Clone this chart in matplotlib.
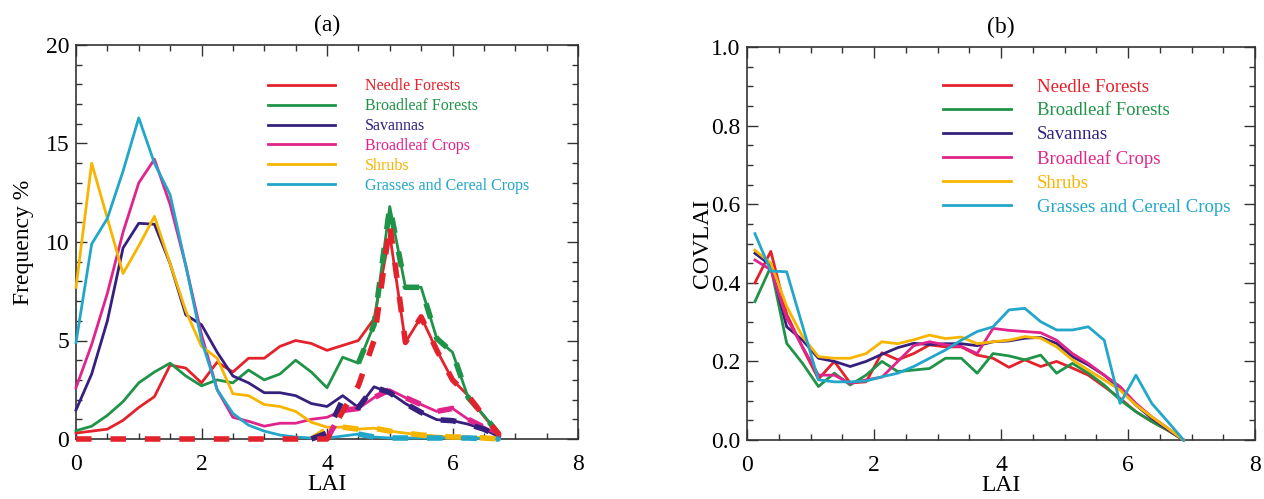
import numpy as np
import matplotlib
matplotlib.use("Agg")
import matplotlib.pyplot as plt
from matplotlib.ticker import MultipleLocator

NaN = np.nan

classes = ["Needle Forests", "Broadleaf Forests", "Savannas",
           "Broadleaf Crops", "Shrubs", "Grasses and Cereal Crops"]
colors = ["#e3222b", "#1f9448", "#35207e", "#e0248c", "#f7b500", "#22a6c9"]

# ---------------- panel (a): LAI histogram ----------------
lai_a = [0.0, 0.25, 0.5, 0.75, 1.0, 1.25, 1.5, 1.75, 2.0, 2.25, 2.5, 2.75, 3.0, 3.25,
         3.5, 3.75, 4.0, 4.25, 4.5, 4.75, 5.0, 5.25, 5.5, 5.75, 6.0, 6.25, 6.5, 6.75]

needle_a = [0.3, 0.4, 0.5, 0.95, 1.6, 2.15, 3.75, 3.6, 2.85, 3.9, 3.4, 4.1, 4.1, 4.7,
            5.0, 4.85, 4.5, 4.75, 5.0, 6.1, 10.4, 4.9, 6.2, 4.5, 3.0, 2.2, 1.15, 0.2]
broadf_a = [0.42, 0.65, 1.2, 1.9, 2.85, 3.4, 3.85, 3.2, 2.7, 3.0, 2.85, 3.5, 3.0, 3.3,
            4.0, 3.4, 2.6, 4.15, 3.85, 5.8, 11.8, 7.7, 7.7, 5.1, 4.4, 2.1, 1.2, 0.2]
savann_a = [1.47, 3.3, 6.0, 9.7, 10.95, 10.9, 8.9, 6.3, 5.8, 4.4, 3.2, 2.85, 2.35, 2.35,
            2.2, 1.8, 1.65, 2.2, 1.6, 2.65, 2.35, 1.8, 1.35, 0.98, 0.93, 0.75, 0.5, 0.1]
bcrops_a = [2.6, 4.8, 7.4, 10.5, 13.0, 14.2, 11.9, 8.8, 5.3, 2.5, 1.1, 0.9, 0.65, 0.8,
            0.8, 1.0, 1.1, 1.45, 1.55, 2.1, 2.5, 2.1, 1.75, 1.4, 1.55, 1.0, 0.6, 0.2]
shrubs_a = [7.7, 14.0, 11.2, 8.4, 9.8, 11.3, 8.9, 6.5, 4.7, 4.1, 2.3, 2.2, 1.75, 1.65,
            1.4, 0.85, 0.6, 0.6, 0.5, 0.55, 0.4, 0.3, 0.2, 0.15, 0.1, 0.1, 0.05, 0.0]
grass_a = [4.9, 9.9, 11.2, 13.6, 16.3, 14.0, 12.4, 8.8, 5.0, 2.5, 1.3, 0.7, 0.4, 0.2,
           0.1, 0.05, 0.05, 0.15, 0.25, 0.1, 0.05, 0.05, 0.05, 0.05, 0.05, 0.05, 0.02, 0.0]

# thick dashed companion curves (panel a)
needle_ad = [0.0, 0.0, 0.0, 0.0, 0.0, 0.0, 0.0, 0.0, 0.0, 0.0, 0.0, 0.0, 0.0, 0.0,
             0.0, 0.0, 0.0, 1.4, 2.7, 5.0, 10.9, 4.9, 6.2, 4.5, 3.0, 2.2, 1.15, 0.2]
broadf_ad = [NaN, NaN, NaN, NaN, NaN, NaN, NaN, NaN, NaN, NaN, NaN, NaN, NaN, NaN,
             NaN, NaN, NaN, NaN, 3.85, 5.8, 11.8, 7.7, 7.7, 5.1, 4.4, 2.1, 1.2, 0.2]
savann_ad = [NaN, NaN, NaN, NaN, NaN, NaN, NaN, NaN, NaN, NaN, NaN, NaN, NaN, NaN,
             NaN, 0.0, 0.3, 2.0, 1.6, 2.65, 2.35, 1.8, 1.35, 0.98, 0.93, 0.75, 0.5, 0.1]
bcrops_ad = [NaN, NaN, NaN, NaN, NaN, NaN, NaN, NaN, NaN, NaN, NaN, NaN, NaN, NaN,
             NaN, NaN, 0.0, 1.45, 1.55, 2.1, 2.5, 2.1, 1.75, 1.4, 1.55, 1.0, 0.6, 0.2]
shrubs_ad = [NaN, NaN, NaN, NaN, NaN, NaN, NaN, NaN, NaN, NaN, NaN, NaN, NaN, NaN,
             NaN, 0.0, 0.5, 0.6, 0.5, 0.55, 0.4, 0.3, 0.2, 0.15, 0.1, 0.1, 0.05, 0.0]
grass_ad = [NaN, NaN, NaN, NaN, NaN, NaN, NaN, NaN, NaN, NaN, NaN, NaN, NaN, NaN,
            NaN, NaN, NaN, NaN, 0.25, 0.1, 0.05, 0.05, 0.05, 0.05, 0.05, 0.05, 0.02, 0.0]

# ---------------- panel (b): COVLAI ----------------
lai_b = [0.125, 0.375, 0.625, 0.875, 1.125, 1.375, 1.625, 1.875, 2.125, 2.375, 2.625,
         2.875, 3.125, 3.375, 3.625, 3.875, 4.125, 4.375, 4.625, 4.875, 5.125, 5.375,
         5.625, 5.875, 6.125, 6.375, 6.625, 6.875]

needle_b = [0.40, 0.48, 0.32, 0.235, 0.155, 0.20, 0.145, 0.148, 0.222, 0.204, 0.22, 0.242,
            0.237, 0.237, 0.216, 0.208, 0.185, 0.204, 0.187, 0.20, 0.183, 0.165, 0.136,
            0.106, 0.072, 0.047, 0.025, 0.0]
broadf_b = [0.352, 0.441, 0.246, 0.195, 0.136, 0.17, 0.14, 0.165, 0.2, 0.174, 0.178, 0.182,
            0.208, 0.208, 0.17, 0.22, 0.214, 0.204, 0.216, 0.17, 0.195, 0.17, 0.14, 0.102,
            0.072, 0.047, 0.025, 0.0]
savann_b = [0.475, 0.445, 0.288, 0.254, 0.208, 0.2, 0.187, 0.2, 0.218, 0.235, 0.246, 0.243,
            0.245, 0.245, 0.24, 0.25, 0.252, 0.259, 0.261, 0.246, 0.212, 0.191, 0.165, 0.131,
            0.089, 0.055, 0.027, 0.0]
bcrops_b = [0.458, 0.433, 0.31, 0.237, 0.165, 0.165, 0.144, 0.153, 0.16, 0.2, 0.24, 0.25,
            0.242, 0.238, 0.22, 0.284, 0.279, 0.276, 0.273, 0.254, 0.22, 0.195, 0.165, 0.136,
            0.093, 0.059, 0.03, 0.0]
shrubs_b = [0.483, 0.45, 0.34, 0.263, 0.212, 0.208, 0.208, 0.22, 0.25, 0.245, 0.255, 0.267,
            0.258, 0.262, 0.245, 0.25, 0.254, 0.263, 0.259, 0.237, 0.204, 0.178, 0.153, 0.127,
            0.089, 0.059, 0.03, 0.0]
grass_b = [0.525, 0.43, 0.428, 0.29, 0.153, 0.148, 0.148, 0.15, 0.161, 0.17, 0.187, 0.208,
           0.229, 0.254, 0.276, 0.288, 0.331, 0.335, 0.301, 0.28, 0.28, 0.288, 0.254, 0.093,
           0.165, 0.093, 0.047, 0.0]

series_a = [needle_a, broadf_a, savann_a, bcrops_a, shrubs_a, grass_a]
dashed_a = [needle_ad, broadf_ad, savann_ad, bcrops_ad, shrubs_ad, grass_ad]
series_b = [needle_b, broadf_b, savann_b, bcrops_b, shrubs_b, grass_b]

plt.rcParams['font.family'] = ['Liberation Serif', 'DejaVu Serif']

fig = plt.figure(figsize=(12.64, 4.99), dpi=100)
axa = fig.add_axes([76/1264, 60/499, 502/1264, 394/499])
axb = fig.add_axes([747/1264, 59/499, 508/1264, 393/499])

lw = 2.0
handles = []
for vals, c, name in zip(series_a, colors, classes):
    h, = axa.plot(lai_a, vals, color=c, lw=lw, label=name, zorder=3, clip_on=False)
    handles.append(h)
# dashed thick companions, red last on top
order = [5, 4, 3, 2, 1, 0]
for i in order:
    axa.plot(lai_a, dashed_a[i], color=colors[i], lw=4.0, ls=(0, (2.8, 3.4)),
             zorder=4, clip_on=False, solid_capstyle='butt', dash_capstyle='butt')

for vals, c, name in zip(series_b, colors, classes):
    axb.plot(lai_b, vals, color=c, lw=lw, label=name, zorder=3, clip_on=False)

axa.set_xlim(0, 8)
axa.set_ylim(0, 20)
axb.set_xlim(0, 8)
axb.set_ylim(0, 1.0)

for ax in (axa, axb):
    ax.xaxis.set_major_locator(MultipleLocator(2))
    ax.xaxis.set_minor_locator(MultipleLocator(0.5))
    ax.tick_params(which='both', direction='in', top=True, right=True,
                   labelsize=17, width=1.0, color='#333333')
    ax.tick_params(which='major', length=8)
    ax.tick_params(which='minor', length=4)
    ax.tick_params(axis='x', which='major', pad=11)
    ax.tick_params(axis='y', which='major', pad=5)
    for s in ax.spines.values():
        s.set_linewidth(1.2)
        s.set_color('#333333')
    ax.set_xlabel("LAI", fontsize=17, labelpad=-1)

axa.yaxis.set_major_locator(MultipleLocator(5))
axa.yaxis.set_minor_locator(MultipleLocator(1))
axb.yaxis.set_major_locator(MultipleLocator(0.2))
axb.yaxis.set_minor_locator(MultipleLocator(0.05))
axb.yaxis.set_major_formatter(matplotlib.ticker.FormatStrFormatter('%.1f'))

axa.set_ylabel("Frequency %", fontsize=17, labelpad=8)
axb.set_ylabel("COVLAI", fontsize=17, labelpad=-2)
axa.set_title("(a)", fontsize=17, pad=10)
axb.set_title("(b)", fontsize=17, pad=10)

axa.legend(handles=handles, loc='upper left', bbox_to_anchor=(0.382, 0.915),
           frameon=False, fontsize=11.5, handlelength=4.2, handletextpad=1.9,
           labelspacing=0.24, borderpad=0, borderaxespad=0, labelcolor='linecolor')
axb.legend(loc='upper left', bbox_to_anchor=(0.386, 0.92),
           frameon=False, fontsize=13.5, handlelength=3.6, handletextpad=1.4,
           labelspacing=0.36, borderpad=0, borderaxespad=0, labelcolor='linecolor')

fig.savefig("out.png", dpi=100)
